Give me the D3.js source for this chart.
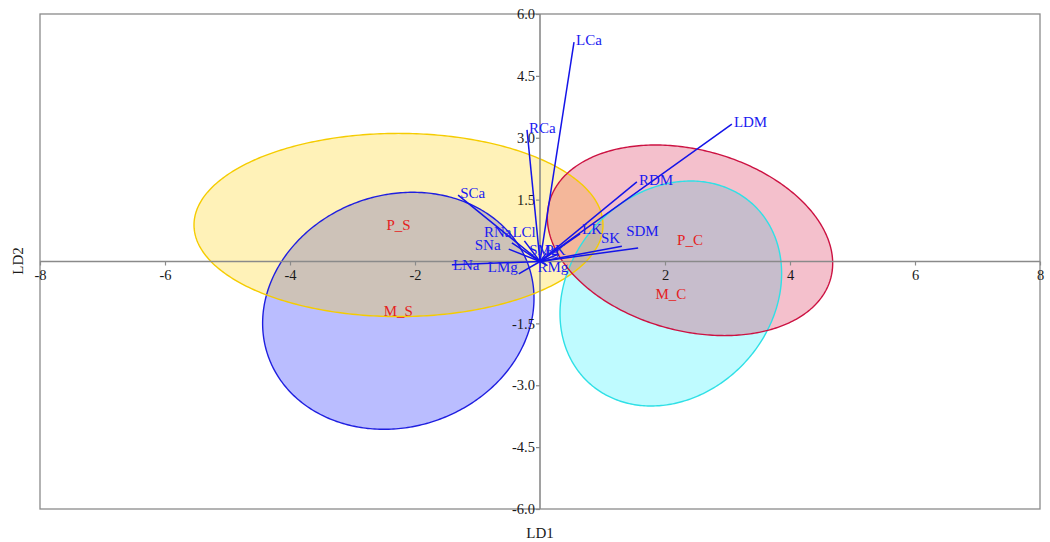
<!DOCTYPE html>
<html>
<head>
<meta charset="utf-8">
<script src="https://cdn.jsdelivr.net/npm/d3@7"></script>
<style>
  html, body { margin: 0; padding: 0; background: #fff; }
  svg { display: block; font-family: "Liberation Serif", "Times New Roman", serif; }
</style>
</head>
<body>
<svg id="chart" width="1050" height="542"></svg>
<script>
// Discriminant function scores: group confidence ellipses (LD1 / LD2)
const groupNames   = ["M_S", "P_S", "M_C", "P_C"];
const groupCx      = [-2.267, -2.264, 2.093, 2.400];
const groupCy      = [-1.195, 0.885, -0.776, 0.514];
const groupHalfW   = [2.171, 3.272, 1.773, 2.283];   // half extent along LD1
const groupHalfH   = [2.873, 2.220, 2.727, 2.310];   // half extent along LD2
const groupTilt    = [0.303, 0.000, 0.485, -0.558];  // LD2 offset at the LD1 extreme
const groupFill    = ["rgb(0,12,255)", "rgb(255,210,0)", "rgb(0,240,255)", "rgb(218,45,85)"];
const groupAlpha   = [0.27, 0.28, 0.25, 0.30];
const groupStroke  = ["#1f1fe0", "#f5cc00", "#2fe0e6", "#cc1242"];

// Structure coefficients (loading vectors)
const varNames = ["LCa", "RCa", "LDM", "RDM", "SCa", "SDM", "SK", "LK",
                  "LNa", "LMg", "SNa", "RNa", "LCl", "SMg", "RK", "RMg"];
const varLD1   = [0.544, -0.208, 3.07, 1.55, -1.31, 1.57, 1.31, 0.64,
                  -1.41, -0.34, -0.50, -0.45, -0.25, 0.10, 0.30, 0.12];
const varLD2   = [5.32, 3.19, 3.33, 1.93, 1.61, 0.33, 0.37, 0.67,
                  -0.08, -0.30, 0.30, 0.45, 0.50, 0.20, 0.18, -0.10];

// Axis ticks
const xTicks = [-8, -6, -4, -2, 2, 4, 6, 8];
const yTicks = [-6, -4.5, -3, -1.5, 1.5, 3, 4.5, 6];

// Label nudges (px) for crowded vector labels; default is just past the tip
const labelShift = {
  SDM: [-12, -17], SK: [-21, -8], LK: [2, -5], LNa: [1, 0], LMg: [-31, -7],
  SNa: [-34, -4], RNa: [-28, -11], LCl: [-12, -9], SMg: [-17, -3],
  RK: [-14, -4], RMg: [-10, 1]
};

const svg = d3.select("#chart");
const x = d3.scaleLinear().domain([-8, 8]).range([40, 1040]);
const y = d3.scaleLinear().domain([-6, 6]).range([509, 14]);
const axisColor = "#8a8a8a";
const hyphen = f => v => f(v).replace("\u2212", "-");

// Frame
svg.append("rect")
  .attr("x", x(-8)).attr("y", y(6))
  .attr("width", x(8) - x(-8)).attr("height", y(-6) - y(6))
  .attr("fill", "none").attr("stroke", axisColor).attr("stroke-width", 1.3);

// Ellipses, drawn in data space through the scales
const line = d3.line().x(d => x(d[0])).y(d => y(d[1])).curve(d3.curveLinearClosed);
const order = [0, 1, 2, 3];
const ellipsePath = i => {
  const k = Math.sqrt(groupHalfH[i] ** 2 - groupTilt[i] ** 2);
  const pts = d3.range(0, 360, 1).map(a => {
    const t = a * Math.PI / 180;
    return [groupCx[i] + groupHalfW[i] * Math.cos(t),
            groupCy[i] + groupTilt[i] * Math.cos(t) + k * Math.sin(t)];
  });
  return line(pts);
};
// fills first, outlines on top
svg.append("g").selectAll("path").data(order).join("path")
  .attr("d", ellipsePath)
  .attr("fill", i => groupFill[i]).attr("fill-opacity", i => groupAlpha[i])
  .attr("stroke", "none");
svg.append("g").selectAll("path").data(order).join("path")
  .attr("d", ellipsePath)
  .attr("fill", "none")
  .attr("stroke", i => groupStroke[i]).attr("stroke-width", 1.4);

// Axes through the origin
const xAxis = d3.axisBottom(x).tickValues(xTicks).tickSizeInner(4).tickSizeOuter(0)
  .tickPadding(4).tickFormat(hyphen(d3.format("d")));
const yAxis = d3.axisLeft(y).tickValues(yTicks).tickSizeInner(4).tickSizeOuter(0)
  .tickPadding(1).tickFormat(hyphen(d3.format(".1f")));

const gx = svg.append("g").attr("transform", `translate(0,${y(0)})`).call(xAxis);
const gy = svg.append("g").attr("transform", `translate(${x(0)},0)`).call(yAxis);
[gx, gy].forEach(g => {
  g.select(".domain").remove();
  g.selectAll(".tick line").attr("stroke", axisColor).attr("stroke-width", 1.2);
  g.selectAll(".tick text").attr("fill", "#1a1a1a")
    .style("font-family", "'Liberation Serif', serif").style("font-size", "14.5px");
});
svg.append("line").attr("x1", x(-8)).attr("x2", x(8)).attr("y1", y(0)).attr("y2", y(0))
  .attr("stroke", axisColor).attr("stroke-width", 1.6);
svg.append("line").attr("x1", x(0)).attr("x2", x(0)).attr("y1", y(6)).attr("y2", y(-6))
  .attr("stroke", axisColor).attr("stroke-width", 1.6);

// Group labels at ellipse centres
svg.append("g").selectAll("text").data(order).join("text")
  .attr("x", i => x(groupCx[i])).attr("y", i => y(groupCy[i]))
  .attr("text-anchor", "middle").attr("dominant-baseline", "central")
  .attr("fill", "#e52222").style("font-size", "15px")
  .text(i => groupNames[i]);

// Loading vectors
const vIdx = d3.range(varNames.length);
svg.append("g").selectAll("line").data(vIdx).join("line")
  .attr("x1", x(0)).attr("y1", y(0))
  .attr("x2", i => x(varLD1[i])).attr("y2", i => y(varLD2[i]))
  .attr("stroke", "#1414e8").attr("stroke-width", 1.5);

svg.append("g").selectAll("text").data(vIdx).join("text")
  .attr("x", i => x(varLD1[i]) + (labelShift[varNames[i]] || [2, -2])[0])
  .attr("y", i => y(varLD2[i]) + (labelShift[varNames[i]] || [2, -2])[1])
  .attr("dominant-baseline", "central")
  .attr("fill", "#1a1af0").style("font-size", "15px")
  .text(i => varNames[i]);

// Axis titles
svg.append("text").attr("x", 540).attr("y", 533)
  .attr("text-anchor", "middle").attr("dominant-baseline", "central")
  .attr("fill", "#1a1a1a").style("font-size", "15px").text("LD1");
svg.append("text").attr("transform", "translate(18,261) rotate(-90)")
  .attr("text-anchor", "middle").attr("dominant-baseline", "central")
  .attr("fill", "#1a1a1a").style("font-size", "15px").text("LD2");
</script>
</body>
</html>
